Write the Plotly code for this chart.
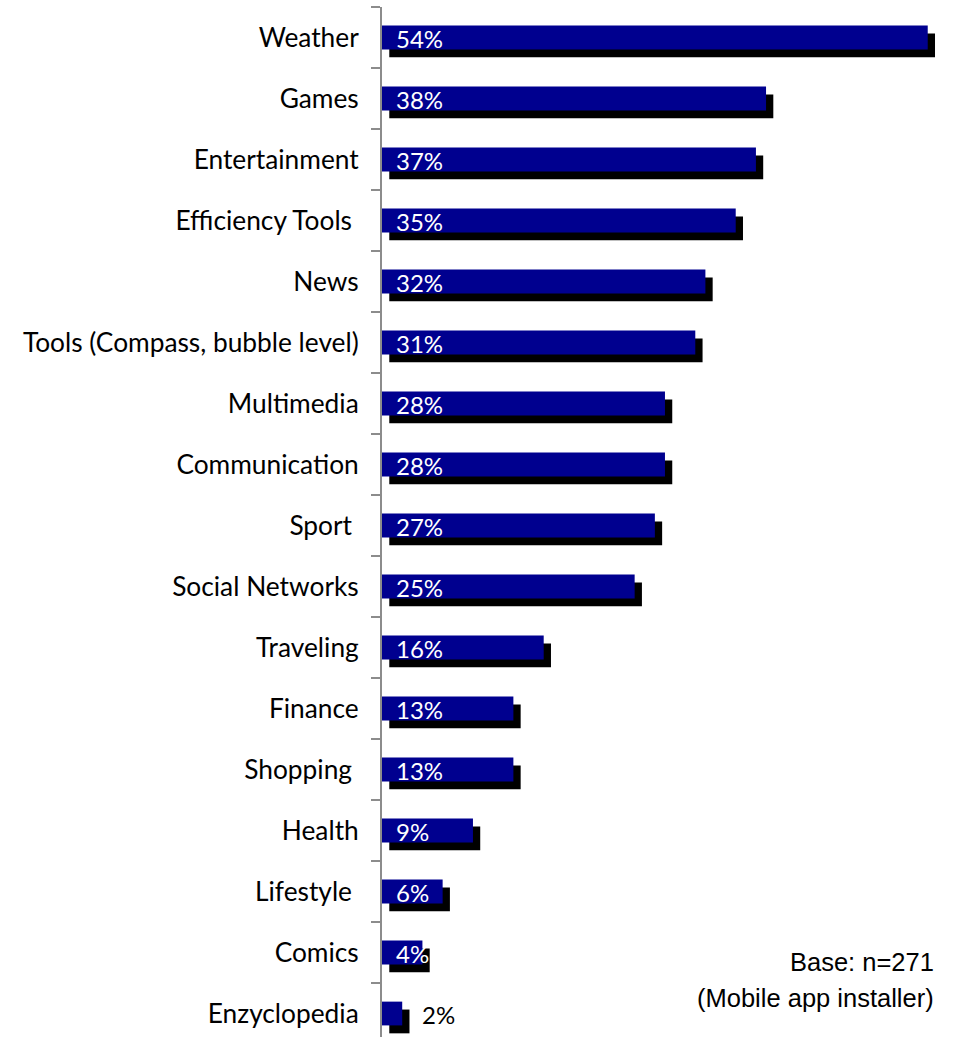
import plotly.graph_objects as go

# App categories installed, share of respondents (%)
categories = [
    "Weather", "Games", "Entertainment", "Efficiency Tools\u00a0", "News",
    "Tools (Compass, bubble level)", "Multimedia", "Communication", "Sport\u00a0",
    "Social Networks", "Traveling", "Finance", "Shopping\u00a0", "Health",
    "Lifestyle\u00a0", "Comics", "Enzyclopedia",
]
values = [54, 38, 37, 35, 32, 31, 28, 28, 27, 25, 16, 13, 13, 9, 6, 4, 2]
inside_label = [True] * 16 + [False]

base_note = ["Base: n=271", "(Mobile app installer)"]

LABEL_FONT = "Gill Sans MT, Gill Sans, Lato, sans-serif"
NOTE_FONT = "Arial, Liberation Sans, sans-serif"
BAR_BLUE = "#00008F"
BAR_WIDTH = 0.39
SHADOW_DX = 0.72   # shadow shift along the value axis (percent units)
SHADOW_DY = 0.13   # shadow shift down (category units)

fig = go.Figure()

# drop shadow behind each bar
fig.add_trace(go.Bar(
    y=categories, x=values, base=[SHADOW_DX] * len(values),
    orientation="h", width=BAR_WIDTH, offset=-BAR_WIDTH / 2 + SHADOW_DY,
    marker=dict(color="#000000", line=dict(width=0)),
    hoverinfo="skip", showlegend=False,
))

# main bars
fig.add_trace(go.Bar(
    y=categories, x=values, orientation="h",
    width=BAR_WIDTH, offset=-BAR_WIDTH / 2,
    marker=dict(color=BAR_BLUE, line=dict(width=0)),
    showlegend=False,
))

annotations = []
for cat, v, inside in zip(categories, values, inside_label):
    if inside:
        annotations.append(dict(
            x=0, y=cat, xref="x", yref="y", text=f"{v}%", showarrow=False,
            xanchor="left", yanchor="middle", xshift=12, yshift=-1,
            font=dict(family=LABEL_FONT, size=24, color="white"),
        ))
    else:
        annotations.append(dict(
            x=v, y=cat, xref="x", yref="y", text=f"{v}%", showarrow=False,
            xanchor="left", yanchor="middle", xshift=18, yshift=-1,
            font=dict(family=LABEL_FONT, size=24, color="black"),
        ))

W, H = 953, 1037
L, T = 382, 7


def px_to_paper(px, py):
    return (px - L) / (W - L), 1 - (py - T) / (H - T)


for text, py in zip(base_note, [962, 998]):
    ax, ay = px_to_paper(936, py)
    annotations.append(dict(
        x=ax, y=ay, xref="paper", yref="paper", text=text,
        showarrow=False, xanchor="right", yanchor="middle",
        font=dict(family=NOTE_FONT, size=25.5, color="black"),
    ))

fig.update_layout(
    width=W, height=H,
    margin=dict(l=L, r=0, t=T, b=0, pad=0),
    barmode="overlay",
    plot_bgcolor="white", paper_bgcolor="white",
    annotations=annotations,
    xaxis=dict(range=[0, 56.5], visible=False, showgrid=False, zeroline=False),
    yaxis=dict(
        type="category",
        range=[16.385, -0.5],
        showline=True, linecolor="#8c8c8c", linewidth=2,
        ticks="outside", tickson="boundaries", ticklen=9, tickwidth=2,
        tickcolor="#8c8c8c",
        showgrid=False, zeroline=False,
        tickfont=dict(family=LABEL_FONT, size=26.3, color="black"),
        ticklabelstandoff=16,
    ),
)

fig.write_html("out.html")
